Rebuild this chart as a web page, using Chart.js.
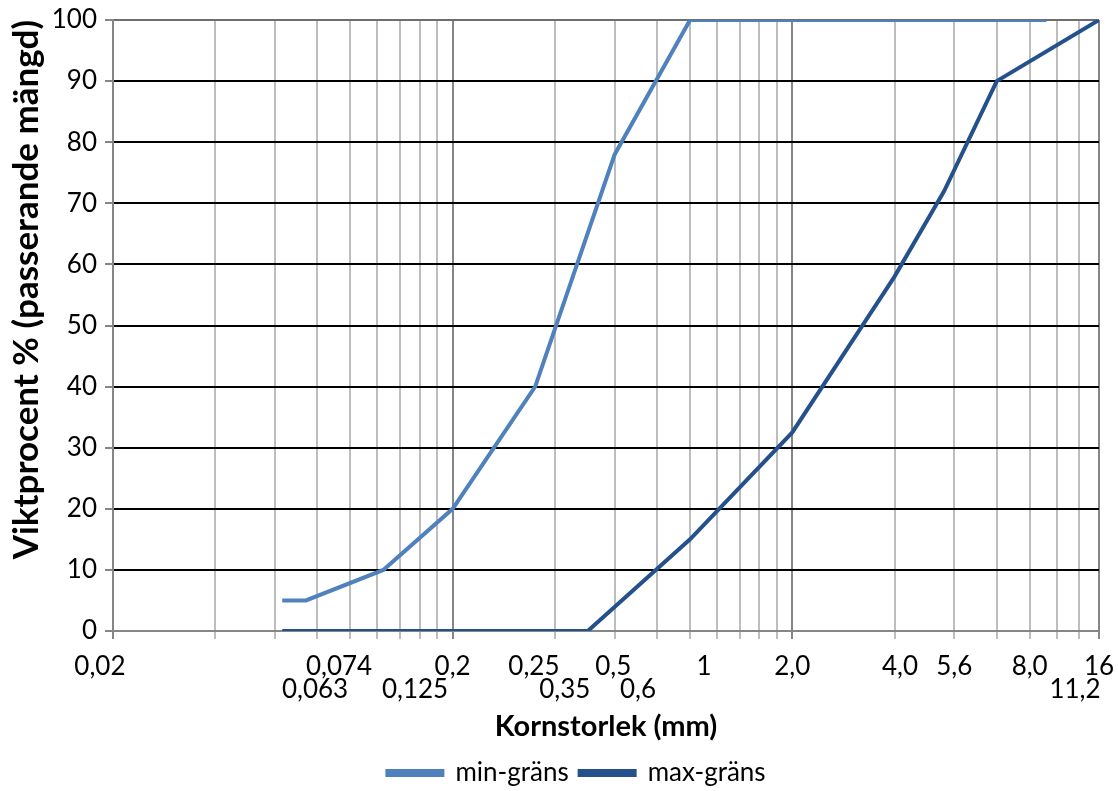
<!DOCTYPE html>
<html lang="sv">
<head>
<meta charset="utf-8">
<title>Kornstorlek</title>
<script src="https://cdn.jsdelivr.net/npm/chart.js@4.4.1/dist/chart.umd.min.js"></script>
<style>
  html, body { margin: 0; padding: 0; background: #fff; }
  #wrap { width: 1118px; height: 791px; }
</style>
</head>
<body>
<div id="wrap"><canvas id="gradingChart" width="1118" height="791"></canvas></div>
<script>
// sieve sizes (mm) and passing percentages
const minSizes = [0.063, 0.074, 0.125, 0.2, 0.35, 0.6, 1, 11.2];
const minPassing = [5, 5, 10, 20, 40, 78, 100, 100];
const maxSizes = [0.063, 0.5, 1, 2, 4, 5.6, 8, 16];
const maxPassing = [0, 0, 15, 32.5, 58, 72, 90, 100];

// vertical grid lines, the darker ones are the decade lines
const gridSizes = [0.02, 0.04, 0.06, 0.08, 0.1, 0.12, 0.14, 0.16, 0.18,
  0.2, 0.4, 0.6, 0.8, 1, 1.2, 1.4, 1.6, 1.8, 2, 4, 6, 8, 10, 12, 14, 16];
const majorSizes = [0.02, 0.2, 2, 16];

// x labels as they sit under the axis (two staggered rows)
const sizeLabels = ["0,02", "0,074", "0,063", "0,125", "0,2", "0,25", "0,35", "0,5", "0,6", "1", "2,0", "4,0", "5,6", "8,0", "16", "11,2"];
const sizeLabelAt = [0.0183, 0.0926, 0.0787, 0.155, 0.2, 0.347, 0.428, 0.594, 0.703, 1.1, 2.0, 4.15, 6.0, 10.0, 16, 13.6];
const sizeLabelRow = [0, 0, 1, 1, 0, 0, 1, 0, 1, 0, 0, 0, 0, 0, 0, 1];

const font = "Lato, 'Open Sans', sans-serif";
const lightBlue = "#4f81bd";
const darkBlue = "#24508b";

const pairs = (xs, ys) => xs.map((x, i) => ({ x, y: ys[i] }));

const sizeLabelPlugin = {
  id: "sizeLabels",
  afterLayout(chart) {
    // nudge the legend to where it sits in the original
    const legend = chart.legend;
    legend.left += 27;
    legend.right += 27;
    legend.top += 5;
    legend.bottom += 5;
  },
  afterDraw(chart) {
    const scale = chart.scales.x;
    const ctx = chart.ctx;
    ctx.save();
    ctx.font = `26px ${font}`;
    ctx.fillStyle = "#000";
    ctx.textAlign = "center";
    ctx.textBaseline = "middle";
    sizeLabels.forEach((text, i) => {
      const px = scale.getPixelForValue(sizeLabelAt[i]);
      const py = scale.top + (sizeLabelRow[i] ? 59 : 36);
      ctx.fillText(text, px, py);
    });
    ctx.restore();
  }
};

new Chart(document.getElementById("gradingChart"), {
  type: "line",
  data: {
    datasets: [
      { label: "min-gräns", data: pairs(minSizes, minPassing), borderColor: lightBlue, backgroundColor: lightBlue, borderWidth: 4, pointRadius: 0, tension: 0 },
      { label: "max-gräns", data: pairs(maxSizes, maxPassing), borderColor: darkBlue, backgroundColor: darkBlue, borderWidth: 4, pointRadius: 0, tension: 0 }
    ]
  },
  options: {
    responsive: false,
    animation: false,
    layout: { padding: { top: 20, right: 19, left: 0, bottom: 0 } },
    plugins: {
      legend: {
        position: "bottom",
        labels: { color: "#000", font: { family: font, size: 26 }, boxWidth: 55, boxHeight: 4, padding: 11 }
      },
      tooltip: { enabled: false }
    },
    scales: {
      x: {
        type: "logarithmic",
        min: 0.02,
        max: 16,
        afterBuildTicks: scale => { scale.ticks = gridSizes.map(value => ({ value })); },
        afterFit: scale => { scale.height = 113; },
        ticks: { display: false },
        grid: {
          color: ctx => majorSizes.includes(ctx.tick.value) ? "#868686" : "#bdbdbd",
          lineWidth: 2,
          tickLength: 8,
          tickColor: ctx => majorSizes.includes(ctx.tick.value) ? "#868686" : "#bdbdbd"
        },
        border: { color: "#868686", width: 2 },
        title: { display: true, text: "Kornstorlek (mm)", color: "#000", font: { family: font, size: 29, weight: "bold" }, padding: { top: 0, bottom: 0 } }
      },
      y: {
        min: 0,
        max: 100,
        afterFit: scale => { scale.width = 113; },
        ticks: { stepSize: 10, color: "#000", padding: 8, font: { family: font, size: 26, lineHeight: 0.9 } },
        grid: {
          color: ctx => ctx.tick.value === 100 ? "#6e6e6e" : ctx.tick.value === 0 ? "#868686" : "#000",
          lineWidth: 2,
          tickLength: 8,
          tickColor: "#868686"
        },
        border: { color: "#868686", width: 2 },
        title: { display: true, text: "Viktprocent % (passerande mängd)", align: "end", color: "#000", font: { family: font, size: 35, weight: "bold" }, padding: { top: 6, bottom: 0 } }
      }
    }
  },
  plugins: [sizeLabelPlugin]
});
</script>
</body>
</html>
